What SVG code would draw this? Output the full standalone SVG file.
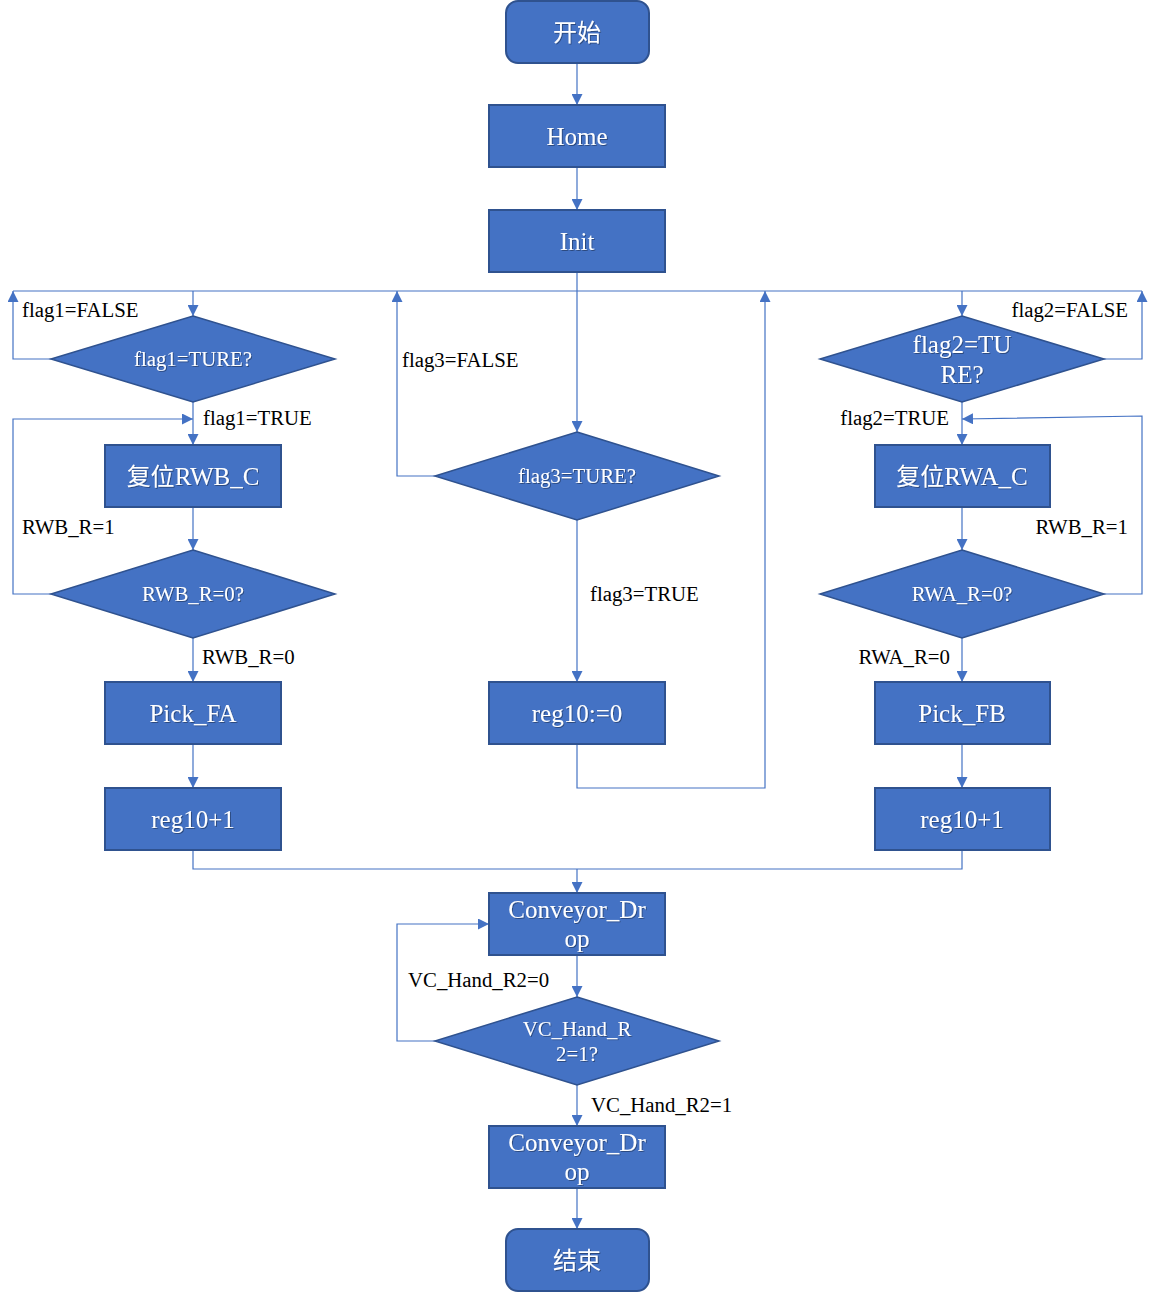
<svg xmlns="http://www.w3.org/2000/svg" width="1156" height="1293" viewBox="0 0 1156 1293">
<style>
.box{fill:#4472C4;stroke:#2F528F;stroke-width:2}
.dia{fill:#4472C4;stroke:#2F528F;stroke-width:1.5}
.bt{font-family:"Liberation Serif",serif;font-size:25px;fill:#fff;text-anchor:middle;filter:url(#sh)}
.dt{font-family:"Liberation Serif",serif;font-size:20.8px;fill:#fff;text-anchor:middle;filter:url(#sh)}
.ct{font-family:"Noto Sans CJK SC",sans-serif;font-size:24px;fill:#fff;text-anchor:middle;filter:url(#sh)}
.lb{font-family:"Liberation Serif",serif;font-size:20.8px;fill:#000}
.ln{fill:none;stroke:#4472C4;stroke-width:1.2}
.ar{marker-end:url(#ah)}
</style>
<defs>
<marker id="ah" markerUnits="userSpaceOnUse" markerWidth="11" markerHeight="11" refX="11" refY="5.5" orient="auto">
<path d="M0,0 L11,5.5 L0,11 z" fill="#4472C4"/>
</marker>
<filter id="sh" x="-10%" y="-10%" width="120%" height="130%">
<feDropShadow dx="1" dy="1" stdDeviation="0.6" flood-color="#000" flood-opacity="0.35"/>
</filter>
</defs>
<g id="connectors">
<path class="ln ar" d="M577,63 V105"/>
<path class="ln ar" d="M577,167 V210"/>
<path class="ln ar" d="M577,272 V432"/>
<path class="ln" d="M13,291 H1142"/>
<path class="ln ar" d="M193,291 V316"/>
<path class="ln ar" d="M962,291 V316"/>
<path class="ln ar" d="M51,359 H13 V291"/>
<path class="ln ar" d="M193,402 V445"/>
<path class="ln ar" d="M193,507 V550"/>
<path class="ln ar" d="M51,594 H13 V419 H193"/>
<path class="ln ar" d="M193,638 V682"/>
<path class="ln ar" d="M193,744 V788"/>
<path class="ln" d="M193,850 V869 H962 V850"/>
<path class="ln ar" d="M577,869 V893"/>
<path class="ln ar" d="M435,476 H397 V291"/>
<path class="ln ar" d="M577,520 V682"/>
<path class="ln ar" d="M577,744 V788 H765 V291"/>
<path class="ln ar" d="M1104,359 H1142 V291"/>
<path class="ln ar" d="M962,402 V445"/>
<path class="ln ar" d="M962,507 V550"/>
<path class="ln ar" d="M1104,594 H1142 V416 L962,419"/>
<path class="ln ar" d="M962,638 V682"/>
<path class="ln ar" d="M962,744 V788"/>
<path class="ln ar" d="M577,955 V997"/>
<path class="ln ar" d="M435,1041 H397 V924 H489"/>
<path class="ln ar" d="M577,1085 V1126"/>
<path class="ln ar" d="M577,1188 V1229"/>
</g>
<g id="labels">
<text class="lb" x="22" y="317">flag1=FALSE</text>
<text class="lb" x="203" y="425">flag1=TRUE</text>
<text class="lb" x="22" y="534">RWB_R=1</text>
<text class="lb" x="202" y="664">RWB_R=0</text>
<text class="lb" x="402" y="367">flag3=FALSE</text>
<text class="lb" x="590" y="601">flag3=TRUE</text>
<text class="lb" x="1128" y="317" text-anchor="end">flag2=FALSE</text>
<text class="lb" x="949" y="425" text-anchor="end">flag2=TRUE</text>
<text class="lb" x="1128" y="534" text-anchor="end">RWB_R=1</text>
<text class="lb" x="950" y="664" text-anchor="end">RWA_R=0</text>
<text class="lb" x="408" y="987">VC_Hand_R2=0</text>
<text class="lb" x="591" y="1112">VC_Hand_R2=1</text>
</g>
<g id="start"><rect class="box" x="506" y="1" width="143" height="62" rx="12"/><text class="ct" x="577" y="41">开始</text></g>
<g id="home"><rect class="box" x="489" y="105" width="176" height="62"/><text class="bt" x="577" y="145">Home</text></g>
<g id="init"><rect class="box" x="489" y="210" width="176" height="62"/><text class="bt" x="577" y="250">Init</text></g>
<g id="flag1"><polygon class="dia" points="193,316 335,359 193,402 51,359"/><text class="dt" x="193" y="366">flag1=TURE?</text></g>
<g id="resetB"><rect class="box" x="105" y="445" width="176" height="62"/><text class="bt" x="193" y="485"><tspan font-family="Noto Sans CJK SC,sans-serif" font-size="24">复位</tspan>RWB_C</text></g>
<g id="rwbR"><polygon class="dia" points="193,550 335,594 193,638 51,594"/><text class="dt" x="193" y="601">RWB_R=0?</text></g>
<g id="pickFA"><rect class="box" x="105" y="682" width="176" height="62"/><text class="bt" x="193" y="722">Pick_FA</text></g>
<g id="reg1"><rect class="box" x="105" y="788" width="176" height="62"/><text class="bt" x="193" y="828">reg10+1</text></g>
<g id="flag3"><polygon class="dia" points="577,432 719,476 577,520 435,476"/><text class="dt" x="577" y="483">flag3=TURE?</text></g>
<g id="reg0"><rect class="box" x="489" y="682" width="176" height="62"/><text class="bt" x="577" y="722">reg10:=0</text></g>
<g id="flag2"><polygon class="dia" points="962,316 1104,359 962,402 820,359"/><text class="bt" x="962" y="353" font-size="24">flag2=TU</text><text class="bt" x="962" y="383" font-size="24">RE?</text></g>
<g id="resetA"><rect class="box" x="875" y="445" width="175" height="62"/><text class="bt" x="962" y="485"><tspan font-family="Noto Sans CJK SC,sans-serif" font-size="24">复位</tspan>RWA_C</text></g>
<g id="rwaR"><polygon class="dia" points="962,550 1104,594 962,638 820,594"/><text class="dt" x="962" y="601">RWA_R=0?</text></g>
<g id="pickFB"><rect class="box" x="875" y="682" width="175" height="62"/><text class="bt" x="962" y="722">Pick_FB</text></g>
<g id="reg2"><rect class="box" x="875" y="788" width="175" height="62"/><text class="bt" x="962" y="828">reg10+1</text></g>
<g id="conv1"><rect class="box" x="489" y="893" width="176" height="62"/><text class="bt" x="577" y="918">Conveyor_Dr</text><text class="bt" x="577" y="947">op</text></g>
<g id="vc"><polygon class="dia" points="577,997 719,1041 577,1085 435,1041"/><text class="dt" x="577" y="1036">VC_Hand_R</text><text class="dt" x="577" y="1061">2=1?</text></g>
<g id="conv2"><rect class="box" x="489" y="1126" width="176" height="62"/><text class="bt" x="577" y="1151">Conveyor_Dr</text><text class="bt" x="577" y="1180">op</text></g>
<g id="end"><rect class="box" x="506" y="1229" width="143" height="62" rx="12"/><text class="ct" x="577" y="1269">结束</text></g>
</svg>
